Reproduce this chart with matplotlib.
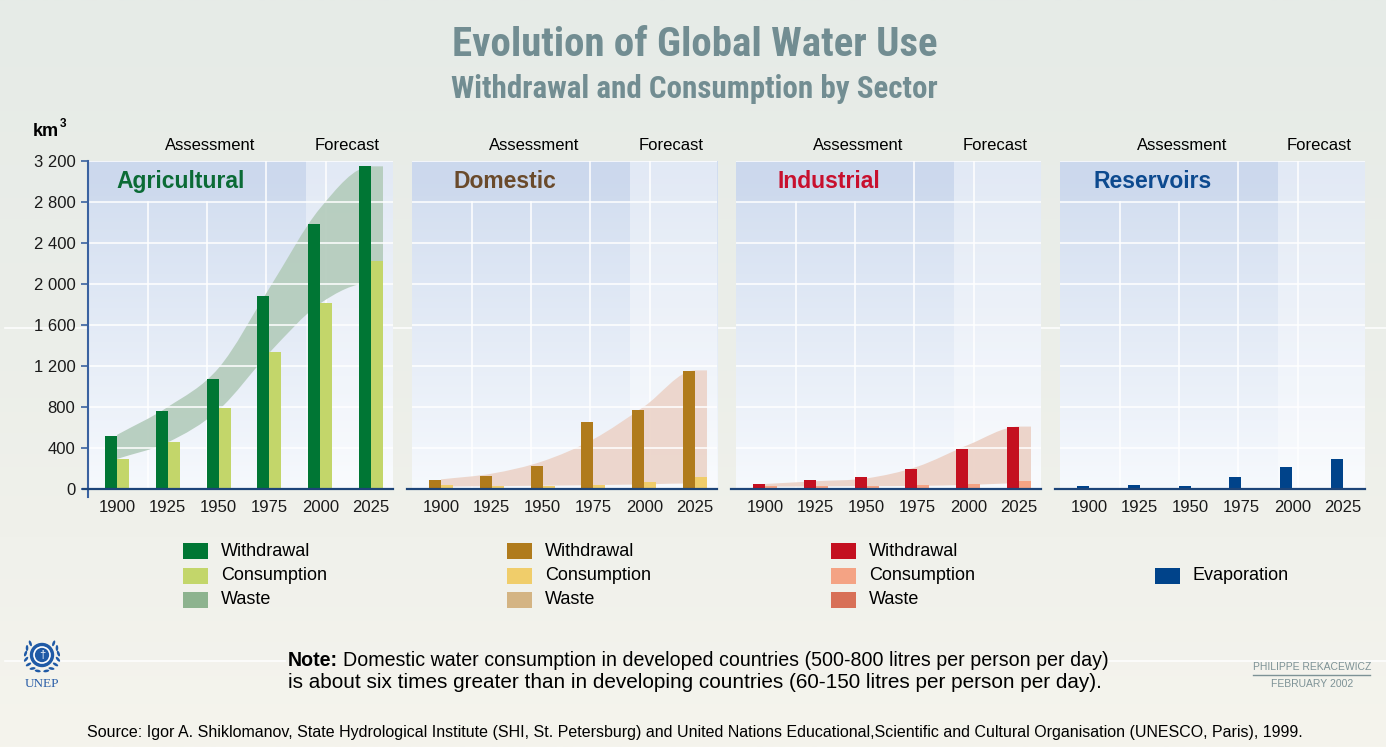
import numpy as np
import matplotlib
matplotlib.use("Agg")
import matplotlib.pyplot as plt
from matplotlib import font_manager
from matplotlib.patches import Rectangle, PathPatch, Circle, Ellipse
from matplotlib.path import Path
from matplotlib.lines import Line2D
from matplotlib.colors import to_rgb

# ---- data (km3) ----
years = ["1900", "1925", "1950", "1975", "2000", "2025"]

agri_withdrawal = [518, 762, 1075, 1887, 2590, 3148]
agri_consumption = [293, 463, 795, 1339, 1812, 2222]
agri_waste_hi = [528, 800, 1180, 1960, 2740, 3148]
agri_waste_lo = [293, 455, 770, 1330, 1810, 2010]

dom_withdrawal = [88, 127, 225, 655, 772, 1153]
dom_consumption = [40, 30, 30, 40, 65, 117]
dom_waste_hi = [94, 150, 270, 485, 805, 1157]
dom_waste_lo = [23, 28, 32, 38, 45, 55]

ind_withdrawal = [49, 88, 117, 196, 391, 606]
ind_consumption = [25, 27, 27, 39, 49, 78]
ind_waste_hi = [49, 76, 104, 218, 430, 609]
ind_waste_lo = [23, 25, 28, 30, 40, 55]

res_evaporation = [29, 39, 29, 117, 215, 293]

yticks = [0, 400, 800, 1200, 1600, 2000, 2400, 2800, 3200]

# ---- fonts ----
names = {f.name for f in font_manager.fontManager.ttflist}
SANS = "Liberation Sans" if "Liberation Sans" in names else "DejaVu Sans"
SERIF = "Liberation Serif" if "Liberation Serif" in names else "DejaVu Serif"
plt.rcParams["font.family"] = SANS

narrow_file = None
for key in ["LiberationSansNarrow-Bold", "RobotoCondensed-Bold", "DejaVuSansCondensed-Bold"]:
    for f in font_manager.fontManager.ttflist:
        if key in f.fname:
            narrow_file = f.fname
            break
    if narrow_file:
        break
if narrow_file:
    TITLE_FP = dict(fontproperties=font_manager.FontProperties(fname=narrow_file))
else:
    TITLE_FP = dict(fontweight="bold")

W, H = 1386, 747
fig = plt.figure(figsize=(W / 100, H / 100), dpi=100)
renderer = fig.canvas.get_renderer()


def fx(px):
    return px / W


def fy(py):
    return 1 - py / H


def fit_width(txt, target_px):
    w = txt.get_window_extent(renderer).width
    txt.set_fontsize(txt.get_fontsize() * target_px / w)


def gradient(stops, n=256):
    pos = [s[0] for s in stops]
    cols = np.array([to_rgb(s[1]) for s in stops])
    t = np.linspace(0, 1, n)
    return np.stack([np.interp(t, pos, cols[:, k]) for k in range(3)], axis=-1)[:, None, :]


# figure background
ax_bg = fig.add_axes([0, 0, 1, 1])
ax_bg.set_zorder(-5)
ax_bg.imshow(gradient([(0, "#e6ebe7"), (0.44, "#ebeee9"), (1, "#f5f4ed")]),
             extent=[0, W, H, 0], aspect="auto")
ax_bg.plot([5, W], [328, 328], color="white", lw=1.2, alpha=0.9)
ax_bg.plot([5, 285], [661, 661], color="white", lw=1.2, alpha=0.9)
ax_bg.plot([1106, W], [661, 661], color="white", lw=1.2, alpha=0.9)
ax_bg.set_xlim(0, W)
ax_bg.set_ylim(H, 0)
ax_bg.axis("off")

# title
t1 = fig.text(fx(694.5), fy(45), "Evolution of Global Water Use", ha="center", va="center",
              fontsize=30, color="#728d92", **TITLE_FP)
t2 = fig.text(fx(694.5), fy(89), "Withdrawal and Consumption by Sector", ha="center", va="center",
              fontsize=22, color="#728d92", **TITLE_FP)
fit_width(t1, 486)
fit_width(t2, 486)

fig.text(fx(33), fy(132), "km", ha="left", va="center", fontsize=13, fontweight="bold")
fig.text(fx(60), fy(124), "3", ha="left", va="center", fontsize=8.5, fontweight="bold")


def band_path(hi, lo, x_end):
    xs = np.arange(len(hi), dtype=float)

    def curve(ys):
        ys = np.asarray(ys, dtype=float)
        n = len(ys)
        m = np.zeros(n)
        for i in range(n):
            if i == 0:
                m[i] = ys[1] - ys[0]
            elif i == n - 1:
                m[i] = 0
            else:
                m[i] = (ys[i + 1] - ys[i - 1]) / 2
        v = []
        for i in range(n - 1):
            v += [(xs[i] + 1 / 3, ys[i] + m[i] / 3),
                  (xs[i + 1] - 1 / 3, ys[i + 1] - m[i + 1] / 3),
                  (xs[i + 1], ys[i + 1])]
        return v

    v_hi = curve(hi)
    v_lo = curve(lo)
    verts = [(0, hi[0])] + v_hi + [(x_end, hi[-1]), (x_end, lo[-1]), (xs[-1], lo[-1])]
    codes = [Path.MOVETO] + [Path.CURVE4] * len(v_hi) + [Path.LINETO] * 3
    lo_pts = [(0, lo[0])] + v_lo
    rev = []
    for k in range(len(lo_pts) - 4, -1, -3):
        s = lo_pts[k:k + 4]
        rev += [s[2], s[1], s[0]]
    verts += rev + [(0, hi[0])]
    codes += [Path.CURVE4] * len(rev) + [Path.CLOSEPOLY]
    return Path(verts, codes)


panels = [
    dict(name="Agricultural", tcol="#0b6b36", bars=[(agri_withdrawal, "#007634"), (agri_consumption, "#c3d66a")],
         band=(agri_waste_hi, agri_waste_lo, "#b4ccbc"),
         legend=[("Withdrawal", "#007634"), ("Consumption", "#c3d66a"), ("Waste", "#8db38e")]),
    dict(name="Domestic", tcol="#6a4a2b", bars=[(dom_withdrawal, "#b07b1c"), (dom_consumption, "#f0cd6a")],
         band=(dom_waste_hi, dom_waste_lo, "#ecd4c9"),
         legend=[("Withdrawal", "#b07b1c"), ("Consumption", "#f0cd6a"), ("Waste", "#d4b483")]),
    dict(name="Industrial", tcol="#c8102e", bars=[(ind_withdrawal, "#c41020"), (ind_consumption, "#f4a384")],
         band=(ind_waste_hi, ind_waste_lo, "#ecd1c6"),
         legend=[("Withdrawal", "#c41020"), ("Consumption", "#f4a384"), ("Waste", "#d87057")]),
    dict(name="Reservoirs", tcol="#0d4a8f", bars=[(res_evaporation, "#00438a")],
         band=None, legend=[(None, None), ("Evaporation", "#00438a")]),
]

bw = 0.236
x = np.arange(len(years))
xmin, xmax = -0.571, 5.433
panel_bg = gradient([(0, "#f6f9fd"), (1, "#d0dcef")])

for i, p in enumerate(panels):
    left = 88 + 324 * i
    ax = fig.add_axes([fx(left), fy(489), fx(305), (489 - 161) / H])
    ax.imshow(panel_bg, extent=[xmin, xmax, 0, 3200], aspect="auto", origin="lower", zorder=0)
    ax.add_patch(Rectangle((0.715, 0), 0.285, 1, transform=ax.transAxes, color="white",
                           alpha=0.38, lw=0, zorder=0.5))
    ax.add_patch(Rectangle((0, 2800 / 3200), 0.715, 400 / 3200, transform=ax.transAxes,
                           color="#c3d1ea", alpha=0.35, lw=0, zorder=0.5))
    for f in [0.197, 0.39]:
        ax.add_line(Line2D([f, f], [0, 2800 / 3200], transform=ax.transAxes, color="white", lw=1.1, zorder=1))
    for f in [0.584, 0.78]:
        ax.add_line(Line2D([f, f], [0, 1], transform=ax.transAxes, color="white", lw=1.1, zorder=1))

    if p["band"] is not None:
        hi, lo, bc = p["band"]
        ax.add_patch(PathPatch(band_path(hi, lo, x[-1] + bw), facecolor=bc, edgecolor="none",
                               alpha=0.92, zorder=2))

    if len(p["bars"]) == 2:
        ax.bar(x - bw / 2, p["bars"][0][0], bw, color=p["bars"][0][1], zorder=3)
        ax.bar(x + bw / 2, p["bars"][1][0], bw, color=p["bars"][1][1], zorder=3)
    else:
        ax.bar(x - bw / 2, p["bars"][0][0], bw, color=p["bars"][0][1], zorder=3)

    ax.set_xlim(xmin, xmax)
    ax.set_ylim(0, 3200)
    ax.set_yticks(yticks)
    ax.yaxis.grid(True, color="white", lw=1.1)
    ax.set_axisbelow(False)
    for gl in ax.get_ygridlines():
        gl.set_zorder(1)
    ax.set_xticks(x)
    ax.set_xticklabels(years, fontsize=12, color="#1a1a1a")
    ax.tick_params(axis="x", length=0, pad=8)
    if i == 0:
        ax.set_yticklabels([f"{v:,}".replace(",", " ") for v in yticks], fontsize=12, color="#1a1a1a")
        ax.tick_params(axis="y", length=5, width=1.2, color="#3a62a0", pad=4, direction="out")
        ax.add_line(Line2D([0, 0], [-0.025, 1], transform=ax.transAxes, color="#3a62a0",
                           lw=1.5, clip_on=False, zorder=5))
    else:
        ax.tick_params(axis="y", length=0, labelleft=False)
    for s in ax.spines.values():
        s.set_visible(False)
    ax.add_line(Line2D([-0.016, 1.0], [0, 0], transform=ax.transAxes, color="#1d4478",
                       lw=1.6, clip_on=False, zorder=5))

    ax.text(0.305, 0.936, p["name"], transform=ax.transAxes, ha="center", va="center",
            fontsize=16.5, fontweight="bold", color=p["tcol"], zorder=6)
    ax.text(0.40, 1.046, "Assessment", transform=ax.transAxes, ha="center", va="center", fontsize=12)
    ax.text(0.849, 1.046, "Forecast", transform=ax.transAxes, ha="center", va="center", fontsize=12)

    # legend
    for r, (lab, col) in enumerate(p["legend"]):
        if lab is None:
            continue
        yc = 551 + 24.5 * r
        fig.patches.append(Rectangle((fx(left + 95), fy(yc + 8)), fx(25), 16 / H,
                                     transform=fig.transFigure, color=col, lw=0))
        fig.text(fx(left + 133), fy(yc), lab, ha="left", va="center", fontsize=13)

# note
line1 = "Domestic water consumption in developed countries (500-800 litres per person per day)"
line2 = "is about six times greater than in developing countries (60-150 litres per person per day)."
tl2 = fig.text(fx(288), fy(683), line2, ha="left", va="center", fontsize=13.5)
fit_width(tl2, 815)
tn = fig.text(fx(288), fy(660), "Note:", ha="left", va="center", fontsize=13.5, fontweight="bold")
tl1 = fig.text(fx(400), fy(660), line1, ha="left", va="center", fontsize=13.5)
w_n = tn.get_window_extent(renderer).width
w_1 = tl1.get_window_extent(renderer).width
scale = (816 - 5) / (w_n + w_1)
tn.set_fontsize(13.5 * scale)
tl1.set_fontsize(13.5 * scale)
tl1.set_x(fx(288 + w_n * scale + 5))

ts = fig.text(fx(87), fy(732),
              "Source: Igor A. Shiklomanov, State Hydrological Institute (SHI, St. Petersburg) and United Nations "
              "Educational,Scientific and Cultural Organisation (UNESCO, Paris), 1999.",
              ha="left", va="center", fontsize=11)
fit_width(ts, 1213)

# credit
tc1 = fig.text(fx(1312), fy(667), "PHILIPPE REKACEWICZ", ha="center", va="center", fontsize=7.5,
               color="#7d9296")
fit_width(tc1, 118)
fig.lines.append(Line2D([fx(1253), fx(1370)], [fy(675), fy(675)], transform=fig.transFigure,
                        color="#7d9296", lw=1))
tc2 = fig.text(fx(1312), fy(684), "FEBRUARY 2002", ha="center", va="center", fontsize=7.5,
               color="#7d9296")
fit_width(tc2, 82)

# UNEP emblem
ax_logo = fig.add_axes([fx(18), fy(696), fx(50), 60 / H])
ax_logo.set_xlim(0, 50)
ax_logo.set_ylim(60, 0)
ax_logo.axis("off")
for k in range(7):
    ang = 135 + k * 20
    for sgn in (1, -1):
        a = np.radians(ang)
        ex = 24 + sgn * 16.5 * np.cos(a)
        ey = 19 - 16.5 * np.sin(a)
        ax_logo.add_patch(Ellipse((ex, ey), 6, 2.6, angle=sgn * (ang - 90) + 25 * sgn, color="#1f5aa6", lw=0))
ax_logo.add_patch(Circle((24, 19), 11.5, color="#1f5aa6"))
ax_logo.add_patch(Circle((24, 19), 8, fill=False, ec="white", lw=1.2))
ax_logo.text(24, 19, "\u2020", ha="center", va="center", color="white", fontsize=8)
ax_logo.text(24, 48, "UNEP", ha="center", va="center", color="#2a5ea8", fontsize=9.5, family=SERIF)

fig.savefig("out.png", dpi=100)
